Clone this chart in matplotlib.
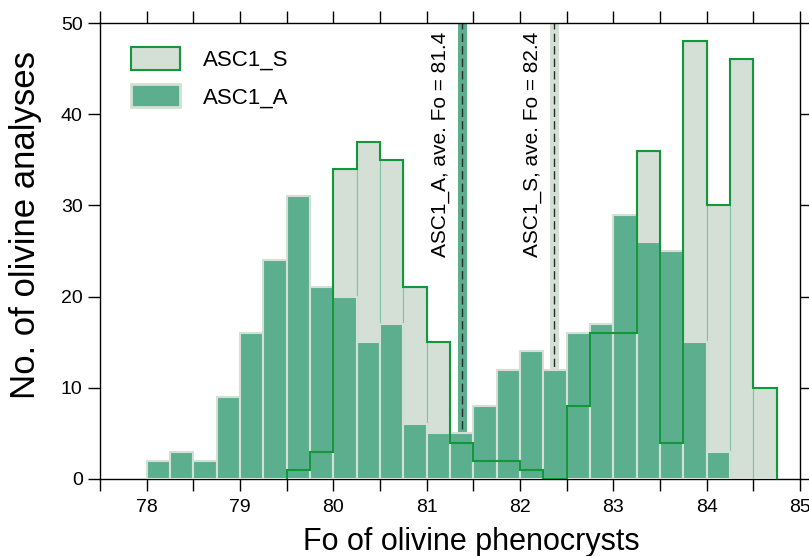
import numpy as np
import matplotlib
matplotlib.use("Agg")
import matplotlib.pyplot as plt
from matplotlib.patches import Patch
from matplotlib.ticker import MultipleLocator

plt.rcParams['font.family'] = ['Liberation Sans', 'DejaVu Sans']

# histogram counts, bins of 0.25 Fo units
bin_width = 0.25
a_start = 78.0
a_counts = [2, 3, 2, 9, 16, 24, 31, 21, 20, 15, 17, 6, 5, 5,
            8, 12, 14, 12, 16, 17, 29, 26, 25, 15, 3]
s_start = 79.5
s_counts = [1, 3, 34, 37, 35, 21, 15, 4, 2, 2, 1, 0,
            8, 16, 16, 36, 4, 48, 30, 46, 10]

# average Fo of each sample
a_mean = 81.38
s_mean = 82.36
a_label = "ASC1_A, ave. Fo = 81.4"
s_label = "ASC1_S, ave. Fo = 82.4"

dark = '#5bae8e'
light = '#d4e0d5'
green = '#12983a'
mid = '#84c2a3'


def main():
    fig = plt.figure(figsize=(8.09, 5.56), dpi=100)
    ax = fig.add_axes([0.1236, 0.1385, 0.8653, 0.8201])

    a_edges = a_start + bin_width * np.arange(len(a_counts) + 1)
    s_edges = s_start + bin_width * np.arange(len(s_counts) + 1)

    # mean lines sit behind the bars
    ax.axvline(a_mean, color=dark, lw=6.5, zorder=1)
    ax.axvline(a_mean, color='#2b2b2b', lw=1.0, ls=(0, (6, 3)), zorder=1.1)
    ax.axvline(s_mean, color=light, lw=6.5, zorder=1)
    ax.axvline(s_mean, color='#2b2b2b', lw=1.0, ls=(0, (6, 3)), zorder=1.1)

    ax.bar(s_edges[:-1], s_counts, width=bin_width, align='edge',
           facecolor=light, edgecolor=mid, lw=0.8, zorder=3)
    ax.bar(a_edges[:-1], a_counts, width=bin_width, align='edge',
           facecolor=dark, edgecolor=light, lw=1.5, zorder=3.5)
    ax.stairs(s_counts, s_edges, baseline=0, color=green, lw=1.5, zorder=4)

    ax.text(a_mean - 0.13, 49.0, a_label, rotation=90, ha='right', va='top',
            fontsize=15)
    ax.text(s_mean - 0.12, 49.0, s_label, rotation=90, ha='right', va='top',
            fontsize=15)

    ax.set_xlim(77.5, 85)
    ax.set_ylim(0, 50)
    ax.xaxis.set_major_locator(MultipleLocator(1))
    ax.xaxis.set_minor_locator(MultipleLocator(0.5))
    ax.yaxis.set_major_locator(MultipleLocator(10))
    ax.tick_params(which='both', direction='out', top=True, right=True,
                   length=8.5, width=1.0, labelsize=14, pad=4)
    ax.tick_params(axis='x', which='both', pad=6)
    for sp in ax.spines.values():
        sp.set_linewidth(1.0)

    ax.set_xlabel("Fo of olivine phenocrysts", fontsize=22)
    ax.set_ylabel("No. of olivine analyses", fontsize=25)
    ax.xaxis.set_label_coords(0.53, -0.105, transform=ax.transAxes)
    ax.yaxis.set_label_coords(-0.106, 0.557, transform=ax.transAxes)
    ax.xaxis.label.set_va('top')
    ax.yaxis.label.set_va('center')

    handles = [Patch(facecolor=light, edgecolor=green, lw=1.5, label='ASC1_S'),
               Patch(facecolor=dark, edgecolor=light, lw=2, label='ASC1_A')]
    ax.legend(handles=handles, loc='upper left', bbox_to_anchor=(0.045, 0.947),
              frameon=False, fontsize=16, handlelength=2.2, handleheight=1.2,
              handletextpad=1.0, labelspacing=0.6, borderaxespad=0,
              borderpad=0)

    fig.savefig('out.png', dpi=100)
    return 0


if __name__ == "__main__":
    main()
